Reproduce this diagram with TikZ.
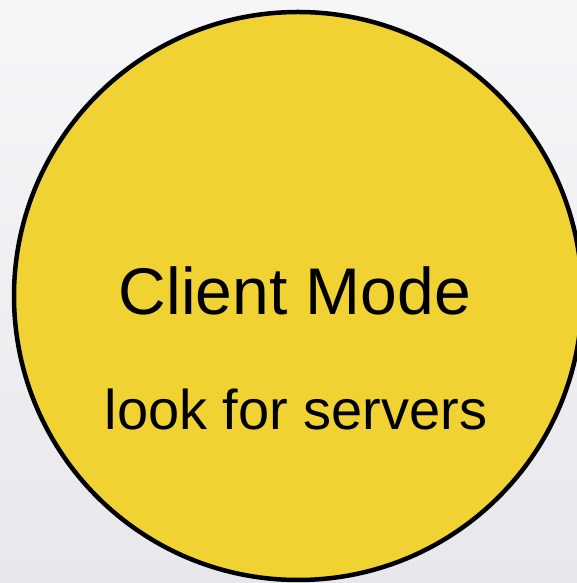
\documentclass[tikz,border=0pt]{standalone}
\usepackage{fontspec}
\setmainfont{Liberation Sans}
\usetikzlibrary{positioning}

\definecolor{modeyellow}{HTML}{F0D232}
\definecolor{bgtop}{HTML}{F6F6F9}
\definecolor{bgbottom}{HTML}{E8E8EC}

\begin{document}
\begin{tikzpicture}[
  x=1pt, y=1pt,
  every node/.style={inner sep=0pt, outer sep=0pt},
  modecircle/.style={circle, draw=black, line width=4.5pt, fill=modeyellow, minimum size=568pt},
  modetext/.style={anchor=base, text=black}
]

\clip (0,0) rectangle (577,583);
\shade[top color=bgtop, bottom color=bgbottom] (0,0) rectangle (577,583);

\node[modecircle] (client) at (298,287) {};

\node[modetext, font=\fontsize{66}{72}\selectfont] (title) at (295,268) {Client Mode};
\node[modetext, font=\fontsize{56}{62}\selectfont] (sub) at (296,153) {look for servers};

\end{tikzpicture}
\end{document}
